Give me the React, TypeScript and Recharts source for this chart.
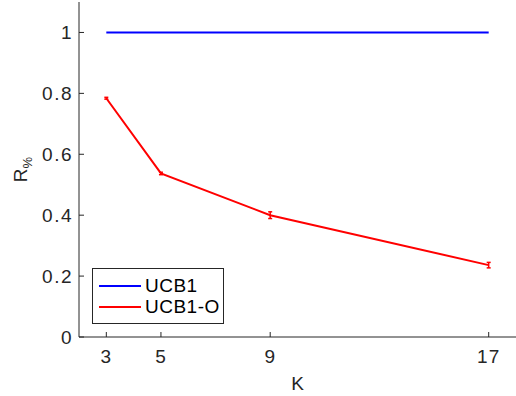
import React from 'react';
import { LineChart, Line, XAxis, YAxis, ErrorBar } from 'recharts';

const kValues = [3, 5, 9, 17];
const ucb1 = [1, 1, 1, 1];
const ucb1o = [0.784, 0.537, 0.4, 0.236];
const ucb1oErr = [0.003, 0.004, 0.011, 0.009];
const xTicks = [3, 5, 9, 17];
const yTicks = [0, 0.2, 0.4, 0.6, 0.8, 1];
const seriesNames = ['UCB1', 'UCB1-O'];
const seriesColors = ['#0000ff', '#ff0000'];

const data = kValues.map((k, i) => ({ k, ucb1: ucb1[i], ucb1o: ucb1o[i], err: ucb1oErr[i] }));

const AXIS = '#262626';
const FONT = 'Liberation Sans, Arial, sans-serif';
const FS = 19;

const LegendBox = () => (
  <div
    style={{
      position: 'absolute',
      left: 92,
      top: 268,
      width: 132,
      height: 56,
      border: '1px solid #262626',
      background: '#fff',
      fontFamily: FONT,
      fontSize: FS,
      letterSpacing: 0.5,
      color: '#000',
      boxSizing: 'border-box',
      paddingTop: 6,
    }}
  >
    {seriesNames.map((name, i) => (
      <div key={name} style={{ display: 'flex', alignItems: 'center', height: 21 }}>
        <div style={{ width: 42, height: 2, background: seriesColors[i], marginLeft: 6, marginRight: 4 }} />
        <span>{name}</span>
      </div>
    ))}
  </div>
);

const YLabel = (props: any) => {
  const vb = props.viewBox || {};
  const cy = vb.y + vb.height / 2;
  const cx = 27;
  return (
    <text
      x={cx}
      y={cy}
      transform={`rotate(-90 ${cx} ${cy})`}
      textAnchor="middle"
      fill={AXIS}
      fontFamily={FONT}
      fontSize={FS}
    >
      R
      <tspan fontSize={13} dy={5}>%</tspan>
    </text>
  );
};

export default function App() {
  return (
    <div style={{ position: 'absolute', left: 0, top: 0, width: 516, height: 396 }}>
      <LineChart width={516} height={396} data={data} margin={{ top: 2, right: 0, left: 0, bottom: 0 }}>
        <XAxis
          xAxisId="b"
          dataKey="k"
          type="number"
          domain={[2, 18]}
          ticks={xTicks}
          height={59}
          stroke={AXIS}
          tickSize={-5}
          tickMargin={18}
          tick={{ fill: AXIS, fontSize: FS, fontFamily: FONT, letterSpacing: 1 }}
          label={{ value: 'K', position: 'insideBottom', offset: 6, fill: AXIS, fontSize: FS, fontFamily: FONT }}
        />
        <XAxis
          xAxisId="t"
          orientation="top"
          dataKey="k"
          type="number"
          domain={[2, 18]}
          ticks={xTicks}
          height={0}
          stroke={AXIS}
          tickSize={-5}
          tick={false}
        />
        <YAxis
          yAxisId="l"
          type="number"
          domain={[0, 1.1]}
          ticks={yTicks}
          width={79}
          stroke={AXIS}
          tickSize={-5}
          tickMargin={11}
          tick={{ fill: AXIS, fontSize: FS, fontFamily: FONT, letterSpacing: 1.5 }}
          label={<YLabel />}
        />
        <YAxis
          yAxisId="r"
          orientation="right"
          type="number"
          domain={[0, 1.1]}
          ticks={yTicks}
          width={0}
          stroke={AXIS}
          tickSize={-5}
          tick={false}
        />
        <Line
          xAxisId="b"
          yAxisId="l"
          dataKey="ucb1"
          name={seriesNames[0]}
          stroke={seriesColors[0]}
          strokeWidth={2}
          dot={false}
          isAnimationActive={false}
        />
        <Line
          xAxisId="b"
          yAxisId="l"
          dataKey="ucb1o"
          name={seriesNames[1]}
          stroke={seriesColors[1]}
          strokeWidth={2}
          dot={false}
          isAnimationActive={false}
        >
          <ErrorBar dataKey="err" direction="y" width={2} stroke={seriesColors[1]} strokeWidth={1.5} />
        </Line>
      </LineChart>
      <LegendBox />
    </div>
  );
}
